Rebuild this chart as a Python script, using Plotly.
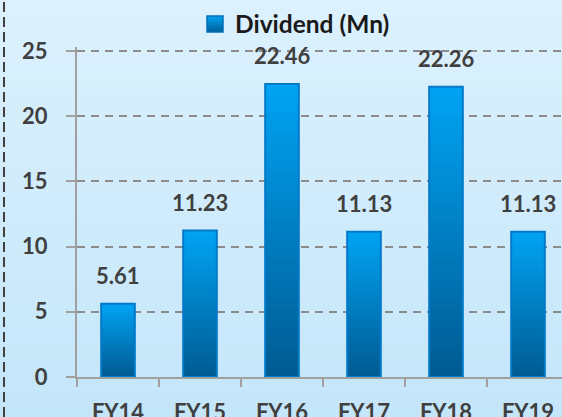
import plotly.graph_objects as go

categories = ["FY14", "FY15", "FY16", "FY17", "FY18", "FY19"]
dividend = [5.61, 11.23, 22.46, 11.13, 22.26, 11.13]
value_labels = ["5.61", "11.23", "22.46", "11.13", "22.26", "11.13"]
series_name = "Dividend (Mn)"

W, H = 562, 417
SCALE = 326 / 25.0          # px per unit
YMAX = 25.3
ML, MR, MB = 77, 0, 40
MT = 51 - (YMAX - 25) * SCALE
PW, PH = W - ML - MR, H - MT - MB
BAND = 82.0
BAR_W = 0.41


def lerp(c1, c2, t):
    return "#%02x%02x%02x" % tuple(round(a + (b - a) * t) for a, b in zip(c1, c2))


TOP = (0, 164, 244)
BOT = (0, 90, 145)
BG_TOP = (220, 241, 253)
BG_BOT = (196, 230, 250)

fig = go.Figure()

# gradient slices of each bar (slightly overlapping to avoid seams)
N = 30
for i in range(N):
    t = (i + 0.5) / N
    bases = [v * i / N for v in dividend]
    heights = [min(v / N * 1.8, v - b) for v, b in zip(dividend, bases)]
    fig.add_trace(go.Bar(
        x=categories, y=heights, base=bases, width=BAR_W,
        marker=dict(color=lerp(BOT, TOP, t), line=dict(width=0)),
        showlegend=False, hoverinfo="skip",
    ))

# outline
fig.add_trace(go.Bar(
    x=categories, y=dividend, base=[0] * len(dividend), width=BAR_W,
    name=series_name,
    marker=dict(color="rgba(0,0,0,0)", line=dict(color="#0079c8", width=2)),
    showlegend=False,
))
# legend entry
fig.add_trace(go.Scatter(
    x=[None], y=[None], name=series_name, mode="markers",
    marker=dict(symbol="square", size=16, color="#00a2f2",
                gradient=dict(type="vertical", color="#005f98"),
                line=dict(color="#0070b8", width=1.5)),
    showlegend=True,
))

# value labels
annotations = [
    dict(x=c, y=v, xref="x", yref="y", text=t, showarrow=False,
         yanchor="bottom", yshift=13,
         font=dict(family="Lato", size=22, color="#404040", weight="bold"))
    for c, v, t in zip(categories, dividend, value_labels)
]

# background gradient
y0p = -MB / PH
y1p = (PH + MT) / PH
x0p = -ML / PW
NB = 40
shapes = []
for i in range(NB):
    ya = y0p + (y1p - y0p) * i / NB
    yb = y0p + (y1p - y0p) * (i + 1) / NB
    shapes.append(dict(type="rect", xref="paper", yref="paper",
                       x0=x0p, x1=1.0, y0=ya, y1=yb + 0.003,
                       fillcolor=lerp(BG_BOT, BG_TOP, (i + 0.5) / NB),
                       line=dict(width=0), layer="below"))
# left dashed border
shapes.append(dict(type="line", xref="paper", yref="paper",
                   x0=(4 - ML) / PW, x1=(4 - ML) / PW, y0=y0p, y1=y1p,
                   line=dict(color="#404040", width=2, dash="10px,5px"),
                   layer="above"))

fig.update_layout(
    width=W, height=H,
    margin=dict(l=ML, r=MR, t=MT, b=MB, pad=0, autoexpand=False),
    barmode="overlay",
    paper_bgcolor=lerp(BG_BOT, BG_TOP, 0.5),
    plot_bgcolor="rgba(0,0,0,0)",
    shapes=shapes,
    annotations=annotations,
    showlegend=True,
    legend=dict(orientation="h", xref="container", yref="container",
                x=195 / W, xanchor="left", y=1 - 24 / H, yanchor="middle",
                font=dict(family="Lato", size=24.5, color="#1a1a1a", weight="bold"),
                bgcolor="rgba(0,0,0,0)", itemwidth=30),
    font=dict(family="Lato"),
    xaxis=dict(
        type="category", range=[-0.5, -0.5 + PW / BAND], automargin=False,
        showgrid=False, showline=True, linecolor="#a0a0a0", linewidth=2,
        ticks="outside", tickson="boundaries", ticklen=8, tickwidth=2, tickcolor="#a0a0a0",
        tickfont=dict(family="Lato", size=22, color="#404040", weight="bold"),
        ticklabelstandoff=15,
        fixedrange=True,
    ),
    yaxis=dict(
        range=[0, YMAX], dtick=5, tick0=0, automargin=False,
        showgrid=True, gridcolor="#8c8c8c", gridwidth=2, griddash="8px,6px",
        showline=True, linecolor="#a0a0a0", linewidth=2,
        ticks="outside", ticklen=9, tickwidth=2, tickcolor="#a0a0a0",
        tickfont=dict(family="Lato", size=22, color="#404040", weight="bold"),
        ticklabelstandoff=14, zeroline=False,
        fixedrange=True,
    ),
)

fig.write_html("out.html", config={"displayModeBar": False},
               post_script="document.body.style.margin='0';")
